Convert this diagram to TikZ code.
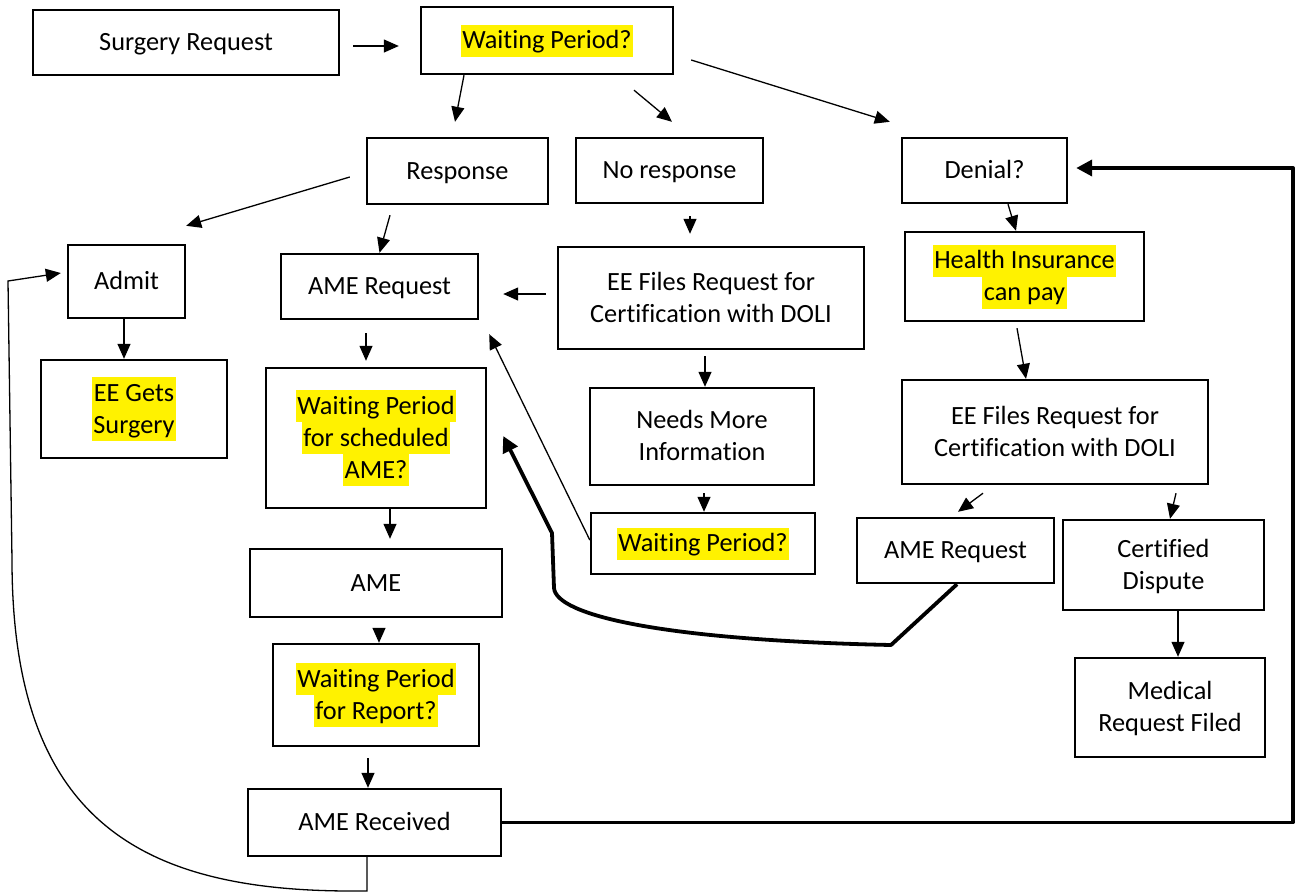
\documentclass[tikz,border=0pt]{standalone}
\usepackage{fontspec}
\setmainfont{Carlito}[Ligatures=NoCommon]
\usetikzlibrary{arrows.meta,calc}
\newcommand\fs{\fontsize{26.3}{32}\selectfont}
\newcommand\mystrut{\vrule height 24pt depth 8pt width 0pt}
\newcommand\hl[1]{{\setlength{\fboxsep}{0pt}\colorbox{yellow}{\kern1.5pt\mystrut #1\kern1.5pt}}}
\newcommand\tl[1]{\mystrut #1}
\begin{document}
\begin{tikzpicture}[x=1pt,y=-1pt,
  box/.style={draw, line width=2.4pt, inner sep=0pt, align=center, font=\fs},
  thinarr/.style={line width=1.3pt, -{Triangle[length=15pt,width=13pt]}},
  heavyarr/.style={line width=3.8pt, line join=round, -{Triangle[length=16pt,width=16pt]}},
  curvearr/.style={line width=1.3pt, -{Triangle[length=15pt,width=13pt]}}]
\useasboundingbox[fill=white] (0,0) rectangle (1297,892);

% boxes
\node[box, minimum width=306pt, minimum height=65pt] (sr) at (186,42.5) {\tl{Surgery Request}};
\node[box, minimum width=252pt, minimum height=67pt] (wp1) at (547,40.5) {\hl{Waiting Period?}};
\node[box, minimum width=181pt, minimum height=66pt] (resp) at (457.5,171) {\tl{Response}};
\node[box, minimum width=187pt, minimum height=65pt] (noresp) at (669.5,170.5) {\tl{No response}};
\node[box, minimum width=165pt, minimum height=65pt] (denial) at (984.5,170.5) {\tl{Denial?}};
\node[box, minimum width=117pt, minimum height=73pt] (admit) at (126.5,281.5) {\tl{Admit}};
\node[box, minimum width=197pt, minimum height=65pt] (amereq1) at (379.5,286.5) {\tl{AME Request}};
\node[box, minimum width=306pt, minimum height=102pt] (eefiles1) at (711,298) {\tl{EE Files Request for}\\\tl{Certification with DOLI}};
\node[box, minimum width=239pt, minimum height=89pt] (health) at (1024.5,276.5) {\hl{Health Insurance}\\\hl{can pay}};
\node[box, minimum width=186pt, minimum height=98pt] (eegets) at (134,409) {\hl{EE Gets}\\\hl{Surgery}};
\node[box, minimum width=220pt, minimum height=140pt] (wpsched) at (376,438) {\hl{Waiting Period}\\\hl{for scheduled}\\\hl{AME?}};
\node[box, minimum width=224pt, minimum height=97pt] (needs) at (702,436.5) {\tl{Needs More}\\\tl{Information}};
\node[box, minimum width=306pt, minimum height=104pt] (eefiles2) at (1055,432) {\tl{EE Files Request for}\\\tl{Certification with DOLI}};
\node[box, minimum width=224pt, minimum height=61pt] (wp2) at (703,543.5) {\hl{Waiting Period?}};
\node[box, minimum width=197pt, minimum height=65pt] (amereq2) at (955.5,550.5) {\tl{AME Request}};
\node[box, minimum width=201pt, minimum height=90pt] (certified) at (1163.5,565) {\tl{Certified}\\\tl{Dispute}};
\node[box, minimum width=252pt, minimum height=68pt] (ame) at (376,583) {\tl{AME}};
\node[box, minimum width=206pt, minimum height=102pt] (wpreport) at (376,695) {\hl{Waiting Period}\\\hl{for Report?}};
\node[box, minimum width=190pt, minimum height=99pt] (medical) at (1170,707.5) {\tl{Medical}\\\tl{Request Filed}};
\node[box, minimum width=253pt, minimum height=67pt] (amerec) at (374.5,822.5) {\tl{AME Received}};

% thin connectors
\draw[thinarr] ([xshift=13pt,yshift=-3.5pt]sr.east) -- ([xshift=-21pt,yshift=-5.5pt]wp1.west);
\draw[thinarr] ([xshift=-83pt]wp1.south) -- ([xshift=-2.5pt,yshift=15pt]resp.north);
\draw[thinarr] ([xshift=87pt,yshift=-15pt]wp1.south) -- ([xshift=2.5pt,yshift=15pt]noresp.north);
\draw[thinarr] ([xshift=17pt,yshift=-19.5pt]wp1.east) -- ([xshift=-11pt,yshift=15pt]denial.north west);
\draw[thinarr] ([xshift=-16pt,yshift=-6pt]resp.west) -- ([yshift=18pt]admit.north east);
\draw[thinarr] ([xshift=-67.5pt,yshift=-10pt]resp.south) -- (amereq1.north);
\draw[thinarr] ([xshift=20.5pt,yshift=-12pt]noresp.south) -- ([xshift=-21pt,yshift=12pt]eefiles1.north);
\draw[thinarr] ([xshift=-11pt,yshift=4pt]eefiles1.west) -- ([xshift=24pt,yshift=-7.5pt]amereq1.east);
\draw[thinarr] ([xshift=-2.5pt]admit.south) -- ([xshift=-10pt]eegets.north);
\draw[thinarr] ([xshift=-13.5pt,yshift=-13pt]amereq1.south) -- ([xshift=-10pt,yshift=6pt]wpsched.north);
\draw[thinarr] ([xshift=14pt]wpsched.south) -- ([xshift=14pt,yshift=9pt]ame.north);
\draw[thinarr] ([xshift=3pt,yshift=-12pt]ame.south) -- ([xshift=3pt]wpreport.north);
\draw[thinarr] ([xshift=-8pt,yshift=-11pt]wpreport.south) -- ([xshift=-6.5pt]amerec.north);
\draw[thinarr] ([xshift=-6pt,yshift=-6pt]eefiles1.south) -- ([xshift=3pt]needs.north);
\draw[thinarr] ([xshift=2pt,yshift=-7pt]needs.south) -- ([xshift=1pt]wp2.north);
\draw[thinarr] ([yshift=3.5pt]wp2.west) -- ([xshift=10pt,yshift=-14pt]amereq1.south east);
\draw[thinarr] ([xshift=23.5pt]denial.south) -- ([xshift=-8.5pt]health.north);
\draw[thinarr] ([xshift=-7.5pt,yshift=-6pt]health.south) -- ([xshift=-29pt]eefiles2.north);
\draw[thinarr] ([xshift=-72pt,yshift=-8pt]eefiles2.south) -- ([xshift=2.5pt,yshift=5pt]amereq2.north);
\draw[thinarr] ([xshift=121pt,yshift=-8pt]eefiles2.south) -- ([xshift=6.5pt]certified.north);
\draw[thinarr] ([xshift=14.5pt]certified.south) -- ([xshift=8pt]medical.north);

% heavy connectors
\coordinate (rc) at (1293,168);
\draw[heavyarr] (amerec.east) -| (rc) -- ([xshift=8pt,yshift=2.5pt]denial.east);
\draw[heavyarr] ([xshift=1.5pt]amereq2.south) -- (891,645)
  .. controls (660,640) and (556,615) .. (554,588) -- (552,533)
  -- ([xshift=16pt,yshift=2pt]wpsched.east);

% return curve to Admit
\draw[curvearr] ([xshift=-7.5pt]amerec.south) -- (367,891) -- (352,891)
  .. controls (140,891) and (12,820) .. (12,560) -- (8,281)
  -- ([xshift=-6pt,yshift=8.5pt]admit.west);
\end{tikzpicture}
\end{document}
